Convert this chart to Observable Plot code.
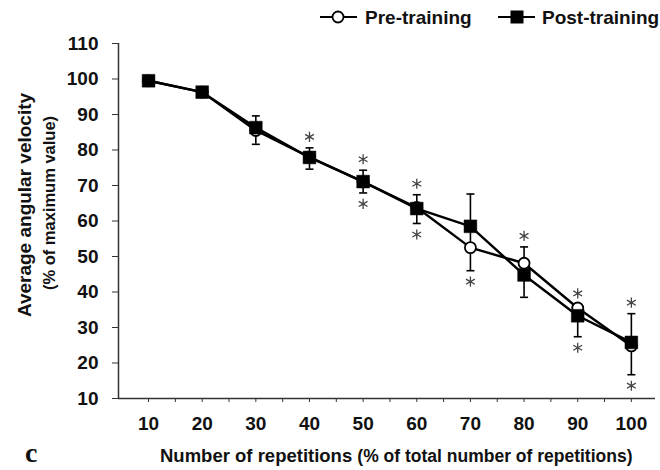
<!DOCTYPE html>
<html>
<head>
<meta charset="utf-8">
<script src="https://cdn.jsdelivr.net/npm/d3@7"></script>
<script src="https://cdn.jsdelivr.net/npm/@observablehq/plot@0.6"></script>
<style>
  html, body { margin: 0; padding: 0; background: white; }
</style>
</head>
<body>
<div id="chart"></div>
<script>
// ---- data ----
const reps = [10, 20, 30, 40, 50, 60, 70, 80, 90, 100];
const preTraining  = [99.5, 96.3, 85.5, 78.0, 71.0, 63.8, 52.5, 48.1, 35.5, 24.8];
const postTraining = [99.5, 96.3, 86.3, 77.9, 71.1, 63.5, 58.5, 44.8, 33.3, 25.8];
const errUpper = [null, null, 89.6, 80.6, 74.3, 67.4, 67.6, 52.7, 36.5, 33.9];
const errLower = [null, null, 81.6, 74.6, 67.9, 59.3, 46.0, 38.5, 27.4, 16.7];
const sigAbove = [40, 50, 60, 80, 90, 100];
const sigBelow = [50, 60, 70, 90, 100];
const yTicks = [10, 20, 30, 40, 50, 60, 70, 80, 90, 100, 110];
const xMinorTicks = d3.range(10, 101, 5);
const xDomain = [4.4, 104.5];

// ---- tables ----
const pre = reps.map((x, i) => ({x, y: preTraining[i]}));
const post = reps.map((x, i) => ({x, y: postTraining[i]}));
const errs = reps.map((x, i) => ({x, lo: errLower[i], hi: errUpper[i]})).filter(d => d.lo != null);
const starsUp = sigAbove.map(x => { const i = reps.indexOf(x); return {x, y: errUpper[i] ?? Math.max(preTraining[i], postTraining[i])}; });
const starsDown = sigBelow.map(x => { const i = reps.indexOf(x); return {x, y: errLower[i] ?? Math.min(preTraining[i], postTraining[i])}; });

const capSymbol = {
  draw(context, size) {
    const w = Math.sqrt(size / Math.PI);
    context.moveTo(-w, 0);
    context.lineTo(w, 0);
  }
};

const axisColor = "#333";

const chart = Plot.plot({
  width: 660,
  height: 470,
  marginLeft: 118,
  marginRight: 5,
  marginTop: 43,
  marginBottom: 72,
  style: {fontFamily: "'Liberation Sans', Arial, sans-serif", fontWeight: "bold", fontSize: "19px", color: "#111", background: "white"},
  x: {type: "linear", domain: xDomain},
  y: {type: "linear", domain: [10, 110]},
  marks: [
    Plot.ruleX([xDomain[0]], {y1: 10, y2: 110, stroke: axisColor, strokeWidth: 1.5}),
    Plot.ruleY([10], {stroke: axisColor, strokeWidth: 1.5}),
    Plot.axisY({ticks: yTicks, tickSize: 6, tickPadding: 14, label: null, fontSize: 19, stroke: axisColor}),
    Plot.axisX({ticks: xMinorTicks, tickSize: 4, tickFormat: () => "", label: null, stroke: axisColor}),
    Plot.axisX({ticks: reps, tickSize: 0, tickPadding: 18, label: null, fontSize: 19}),
    // error bars
    Plot.ruleX(errs, {x: "x", y1: "lo", y2: "hi", stroke: "black", strokeWidth: 1.6}),
    Plot.dot(errs, {x: "x", y: "hi", symbol: capSymbol, r: 4, stroke: "black", strokeWidth: 1.6, fill: "none"}),
    Plot.dot(errs, {x: "x", y: "lo", symbol: capSymbol, r: 4, stroke: "black", strokeWidth: 1.6, fill: "none"}),
    // lines
    Plot.line(pre, {x: "x", y: "y", stroke: "black", strokeWidth: 2.4}),
    Plot.line(post, {x: "x", y: "y", stroke: "black", strokeWidth: 2.4}),
    Plot.dot(pre, {x: "x", y: "y", symbol: "circle", r: 5.5, fill: "white", stroke: "black", strokeWidth: 1.8}),
    Plot.dot(post, {x: "x", y: "y", symbol: "square", r: 7.2, fill: "black", stroke: "black", strokeWidth: 0.5}),
    // significance asterisks
    Plot.dot(starsUp, {x: "x", y: "y", dy: -11, symbol: "asterisk", r: 4.8, stroke: "#444", strokeWidth: 1.3}),
    Plot.dot(starsDown, {x: "x", y: "y", dy: 11, symbol: "asterisk", r: 4.8, stroke: "#444", strokeWidth: 1.3})
  ]
});

const svg = d3.select(chart);

// y title
svg.append("text")
  .attr("transform", "translate(31,205) rotate(-90)")
  .attr("text-anchor", "middle")
  .attr("font-size", 19).attr("font-weight", "bold").attr("fill", "#111")
  .text("Average angular velocity");
svg.append("text")
  .attr("transform", "translate(55,203) rotate(-90)")
  .attr("text-anchor", "middle")
  .attr("font-size", 16.5).attr("font-weight", "bold").attr("fill", "#111")
  .text("(% of maximum value)");

// x title
const xt = svg.append("text")
  .attr("x", 160).attr("y", 462)
  .attr("text-anchor", "start")
  .attr("font-weight", "bold").attr("fill", "#111");
xt.append("tspan").attr("font-size", 18.5).text("Number of repetitions ");
xt.append("tspan").attr("font-size", 17.5).text("(% of total number of repetitions)");

// panel letter
svg.append("text")
  .attr("x", 25).attr("y", 462)
  .attr("text-anchor", "start")
  .attr("font-family", "'Liberation Serif', 'DejaVu Serif', serif")
  .attr("font-weight", "bold").attr("font-size", 28).attr("fill", "#111")
  .text("c");

// legend
const lg = svg.append("g").attr("text-anchor", "start");
const ly = 17;
lg.append("line").attr("x1", 320).attr("x2", 357).attr("y1", ly).attr("y2", ly).attr("stroke", "black").attr("stroke-width", 2);
lg.append("circle").attr("cx", 338).attr("cy", ly).attr("r", 5.5).attr("fill", "white").attr("stroke", "black").attr("stroke-width", 1.8);
lg.append("text").attr("x", 365).attr("y", ly + 7).attr("font-size", 19).attr("font-weight", "bold").attr("fill", "#111").text("Pre-training");
lg.append("line").attr("x1", 498).attr("x2", 535).attr("y1", ly).attr("y2", ly).attr("stroke", "black").attr("stroke-width", 2);
lg.append("rect").attr("x", 517 - 6.5).attr("y", ly - 6.5).attr("width", 13).attr("height", 13).attr("fill", "black");
lg.append("text").attr("x", 542).attr("y", ly + 7).attr("font-size", 19).attr("font-weight", "bold").attr("fill", "#111").text("Post-training");

document.getElementById("chart").appendChild(chart);
</script>
</body>
</html>
